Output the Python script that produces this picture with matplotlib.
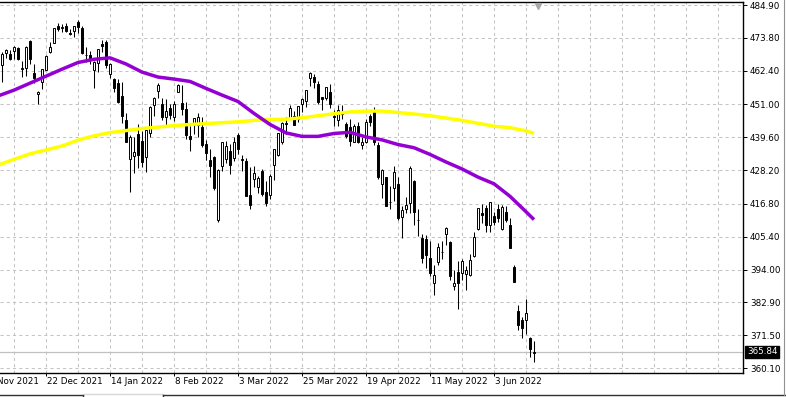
import numpy as np
import matplotlib
matplotlib.use("Agg")
import matplotlib.pyplot as plt
import matplotlib.transforms as mtransforms
from matplotlib.lines import Line2D

plt.rcParams['font.family'] = 'DejaVu Sans'

# daily candles, 6 Dec 2021 .. 17 Jun 2022
dates = ['2021-12-06', '2021-12-07', '2021-12-08', '2021-12-09', '2021-12-10', '2021-12-13', '2021-12-14',
         '2021-12-15', '2021-12-16', '2021-12-17', '2021-12-20', '2021-12-21', '2021-12-22', '2021-12-23',
         '2021-12-27', '2021-12-28', '2021-12-29', '2021-12-30', '2021-12-31',
         '2022-01-03', '2022-01-04', '2022-01-05', '2022-01-06', '2022-01-07', '2022-01-10', '2022-01-11',
         '2022-01-12', '2022-01-13', '2022-01-14', '2022-01-18', '2022-01-19', '2022-01-20', '2022-01-21',
         '2022-01-24', '2022-01-25', '2022-01-26', '2022-01-27', '2022-01-28', '2022-01-31',
         '2022-02-01', '2022-02-02', '2022-02-03', '2022-02-04', '2022-02-07', '2022-02-08', '2022-02-09',
         '2022-02-10', '2022-02-11', '2022-02-14', '2022-02-15', '2022-02-16', '2022-02-17', '2022-02-18',
         '2022-02-22', '2022-02-23', '2022-02-24', '2022-02-25', '2022-02-28',
         '2022-03-01', '2022-03-02', '2022-03-03', '2022-03-04', '2022-03-07', '2022-03-08', '2022-03-09',
         '2022-03-10', '2022-03-11', '2022-03-14', '2022-03-15', '2022-03-16', '2022-03-17', '2022-03-18',
         '2022-03-21', '2022-03-22', '2022-03-23', '2022-03-24', '2022-03-25', '2022-03-28', '2022-03-29',
         '2022-03-30', '2022-03-31',
         '2022-04-01', '2022-04-04', '2022-04-05', '2022-04-06', '2022-04-07', '2022-04-08', '2022-04-11',
         '2022-04-12', '2022-04-13', '2022-04-14', '2022-04-18', '2022-04-19', '2022-04-20', '2022-04-21',
         '2022-04-22', '2022-04-25', '2022-04-26', '2022-04-27', '2022-04-28', '2022-04-29',
         '2022-05-02', '2022-05-03', '2022-05-04', '2022-05-05', '2022-05-06', '2022-05-09', '2022-05-10',
         '2022-05-11', '2022-05-12', '2022-05-13', '2022-05-16', '2022-05-17', '2022-05-18', '2022-05-19',
         '2022-05-20', '2022-05-23', '2022-05-24', '2022-05-25', '2022-05-26', '2022-05-27', '2022-05-31',
         '2022-06-01', '2022-06-02', '2022-06-03', '2022-06-06', '2022-06-07', '2022-06-08', '2022-06-09',
         '2022-06-10', '2022-06-13', '2022-06-14', '2022-06-15', '2022-06-16', '2022-06-17']

opens = [456.1, 464.4, 468.7, 468.2, 469.2, 470.2, 463.1, 463.4, 472.6, 461.6, 454.5, 458.6, 462.8, 468.8,
         472.1, 477.7, 477.0, 477.9, 475.6,
         476.3, 479.2, 477.2, 467.9, 468.0, 462.7, 465.2, 471.6, 472.2, 461.2, 459.7, 458.1, 453.8, 445.6,
         432.0, 433.1, 440.7, 438.3, 432.7, 441.2,
         450.7, 455.5, 451.0, 446.4, 449.5, 446.7, 455.2, 451.3, 449.4, 439.9, 443.7, 443.9, 443.2, 437.3,
         431.9, 432.7, 411.0, 429.6, 432.0,
         435.0, 432.4, 440.5, 431.8, 431.6, 419.6, 425.1, 422.5, 428.1, 420.9, 419.8, 429.9, 433.6, 438.0,
         444.3, 445.9, 446.9, 445.9, 451.2, 452.1, 460.0, 460.3, 457.9,
         453.3, 453.1, 455.2, 446.9, 445.6, 448.0, 444.1, 443.1, 438.0, 443.6, 436.8, 437.9, 446.9, 448.5,
         436.9, 423.7, 425.8, 417.2, 422.3, 423.6,
         412.1, 415.0, 417.1, 424.6, 411.1, 405.1, 404.5, 398.1, 389.4, 396.7, 400.0, 406.5, 403.5, 388.6,
         393.3, 392.8, 392.6, 392.3, 398.7, 407.9, 413.6,
         415.2, 409.4, 412.4, 414.8, 408.1, 413.9, 409.3, 394.9, 379.9, 376.9, 376.9, 370.5, 365.5]

highs = [460.8, 468.9, 470.0, 469.6, 470.9, 470.6, 465.7, 470.9, 472.9, 464.7, 455.4, 463.2, 467.8, 472.2,
         477.3, 478.8, 478.6, 479.0, 476.9,
         477.9, 480.0, 478.0, 470.8, 469.2, 465.7, 469.9, 473.2, 472.9, 465.1, 460.0, 459.6, 458.7, 448.1,
         440.4, 439.7, 444.0, 441.6, 442.0, 450.3,
         453.6, 458.1, 453.0, 452.8, 451.0, 451.9, 457.9, 457.7, 451.6, 443.5, 446.3, 448.1, 446.6, 438.7,
         435.5, 433.3, 428.8, 437.8, 438.2,
         437.2, 439.7, 441.1, 433.4, 432.3, 429.5, 429.7, 426.4, 428.8, 424.6, 426.8, 435.7, 441.1, 444.9,
         446.5, 450.6, 448.5, 450.5, 453.0, 455.9, 462.1, 461.2, 458.8,
         453.5, 456.9, 457.8, 448.9, 450.7, 450.6, 445.0, 445.8, 444.1, 444.7, 439.8, 445.8, 447.6, 450.0,
         438.1, 428.7, 426.0, 422.9, 429.6, 425.9,
         415.9, 418.9, 429.7, 425.0, 414.8, 406.4, 406.1, 404.0, 395.8, 403.2, 404.0, 408.6, 403.8, 394.1,
         397.0, 397.7, 395.2, 399.5, 407.0, 415.4, 416.5,
         416.2, 417.4, 414.0, 416.6, 416.2, 415.8, 411.7, 395.8, 381.8, 377.9, 384.0, 370.9, 369.4]

lows = [453.6, 458.7, 466.8, 466.1, 466.5, 466.3, 460.3, 460.7, 464.8, 458.1, 451.1, 456.3, 462.6, 468.6,
        472.0, 476.1, 475.9, 475.7, 474.7,
        473.9, 475.6, 468.3, 465.4, 464.7, 456.6, 462.1, 468.9, 463.4, 459.9, 455.3, 451.5, 444.5, 437.9,
        420.8, 427.2, 428.9, 429.5, 427.8, 439.8,
        446.9, 453.1, 445.7, 443.8, 445.9, 445.2, 455.0, 447.2, 438.9, 434.8, 440.7, 439.7, 436.4, 431.8,
        425.9, 421.4, 410.6, 427.9, 430.7,
        427.1, 431.6, 433.8, 427.9, 419.4, 415.1, 422.4, 420.4, 419.5, 415.8, 418.4, 424.8, 433.2, 437.2,
        440.7, 445.9, 443.7, 444.8, 448.4, 450.1, 457.2, 456.5, 451.2,
        449.1, 452.3, 449.8, 443.5, 443.5, 445.9, 439.4, 436.7, 437.8, 437.7, 435.6, 437.7, 443.5, 437.1,
        425.4, 418.8, 416.1, 415.0, 417.6, 411.2,
        405.0, 413.4, 413.7, 409.4, 405.7, 396.5, 394.8, 392.0, 385.2, 395.6, 397.6, 402.6, 390.6, 387.1,
        380.5, 390.6, 387.0, 391.9, 398.5, 407.7, 410.0,
        406.9, 407.0, 409.5, 410.6, 407.6, 410.4, 401.4, 389.8, 373.3, 370.6, 372.1, 364.1, 362.2]

closes = [458.8, 468.3, 469.5, 466.4, 470.7, 466.6, 463.4, 470.6, 466.5, 459.9, 455.0, 463.1, 467.7, 470.6,
          477.3, 476.9, 477.5, 476.2, 475.0,
          477.7, 477.6, 468.4, 467.9, 466.1, 465.5, 469.8, 471.0, 464.5, 464.7, 456.5, 451.8, 446.8, 438.0,
          439.8, 434.5, 433.4, 431.2, 442.0, 449.9,
          453.0, 457.4, 446.6, 448.7, 447.3, 450.9, 457.5, 449.3, 440.5, 439.0, 446.1, 446.6, 437.1, 434.2,
          429.6, 422.0, 428.3, 437.8, 436.6,
          430.0, 437.9, 435.7, 432.2, 419.4, 416.3, 427.4, 425.5, 420.1, 417.0, 426.2, 435.6, 441.1, 444.5,
          444.4, 449.6, 443.8, 450.5, 452.7, 455.9, 461.6, 458.7, 451.6,
          452.9, 456.8, 451.0, 446.5, 448.8, 447.6, 439.9, 438.3, 443.3, 437.8, 438.0, 445.0, 444.7, 438.1,
          426.0, 428.5, 416.1, 417.3, 427.8, 412.0,
          414.5, 416.4, 429.1, 413.8, 411.3, 398.2, 399.1, 392.8, 392.3, 401.7, 400.1, 408.3, 391.9, 389.5,
          389.6, 396.9, 393.9, 397.4, 405.3, 415.3, 412.9,
          409.6, 417.4, 410.5, 411.8, 415.7, 411.2, 401.4, 389.8, 375.0, 373.9, 379.2, 366.7, 365.84]

# moving averages, every 4th bar from 6 Dec
ma_dates = dates[::4] + [dates[-1]]
ma_purple = [453.8, 455.8, 458.2, 460.6, 463.0, 465.3, 466.4, 466.9, 464.8, 462.0, 460.3, 459.6, 458.8,
             456.4, 454.1, 451.9, 447.8, 444.0, 441.1, 439.9, 439.9, 440.9, 441.3, 439.7, 438.7, 437.1,
             436.0, 433.7, 431.1, 428.7, 425.9, 423.6, 419.3, 414.0, 411.3]
ma_yellow = [430.0, 432.0, 433.9, 435.2, 436.6, 438.6, 440.1, 441.2, 441.9, 442.6, 443.1, 443.6, 444.0,
             444.3, 444.6, 444.9, 445.4, 445.7, 445.8, 446.3, 447.0, 447.7, 448.3, 448.6, 448.6, 448.1,
             447.6, 447.0, 446.2, 445.4, 444.4, 443.4, 442.9, 441.8, 440.9]

price_ticks = [484.90, 473.80, 462.40, 451.00, 439.60, 428.20, 416.80, 405.40, 394.00, 382.90, 371.50, 360.10]
date_ticks = ['2021-11-30', '2021-12-22', '2022-01-14', '2022-02-08', '2022-03-03',
              '2022-03-25', '2022-04-19', '2022-05-11', '2022-06-03']
date_labels = ['30 Nov 2021', '22 Dec 2021', '14 Jan 2022', '8 Feb 2022', '3 Mar 2022',
               '25 Mar 2022', '19 Apr 2022', '11 May 2022', '3 Jun 2022']
last_price = 365.84

holidays = ['2021-12-24', '2022-01-17', '2022-02-21', '2022-04-15', '2022-05-30']


def bar_pos(d):
    # trading days since 1 Dec 2021
    return np.busday_count('2021-12-01', d, holidays=holidays)


x = np.array([bar_pos(d) for d in dates])
x_ma = np.array([bar_pos(d) for d in ma_dates])
o = np.array(opens)
h = np.array(highs)
l = np.array(lows)
c = np.array(closes)

fig = plt.figure(figsize=(7.86, 3.97), dpi=100)
ax = fig.add_axes([0, 24 / 397, 743 / 786, 371 / 397])
ax.set_xlim(3.5, 189.25)
ax.set_ylim(358.55, 486.1)

grid_kw = dict(color='#c4c4c4', lw=0.75, ls=(0, (3, 3)), zorder=0.5)
for p in price_ticks:
    ax.axhline(p, **grid_kw)
for k in range(7, 190, 8):
    ax.axvline(k, **grid_kw)

ax.axhline(last_price, color='#c0c0c0', lw=0.9, zorder=0.6)

# candles
ax.vlines(x, l, h, color='black', lw=0.75, zorder=2)
up = c >= o
body_lo = np.minimum(o, c)
body_h = np.maximum(np.abs(c - o), 0.08)
ax.bar(x[up], body_h[up], bottom=body_lo[up], width=0.6, color='white',
       edgecolor='black', linewidth=0.7, zorder=3)
ax.bar(x[~up], body_h[~up], bottom=body_lo[~up], width=0.6, color='black',
       edgecolor='black', linewidth=0.7, zorder=3)

ax.plot(x_ma, ma_yellow, color='#ffff00', lw=2.5, zorder=4, solid_capstyle='butt')
ax.plot(x_ma, ma_purple, color='#9400d3', lw=2.5, zorder=5, solid_capstyle='butt')

# axes frame like the terminal chart
ax.spines['left'].set_visible(False)
for s in ['top', 'right', 'bottom']:
    ax.spines[s].set_linewidth(1.0)
    ax.spines[s].set_color('black')

ax.yaxis.tick_right()
ax.set_yticks(price_ticks)
ax.set_yticklabels(['%.2f' % p for p in price_ticks])
ax.tick_params(axis='y', direction='out', length=3, width=0.7, pad=2, labelsize=6.3, colors='black')

tick_x = [bar_pos(d) for d in date_ticks]
ax.set_xticks([t for t in tick_x if t > 3.5])
ax.set_xticklabels([])
ax.tick_params(axis='x', direction='out', length=2.5, width=0.7)
for t, lab in zip(tick_x, date_labels):
    ax.annotate(lab, xy=(t, 0), xycoords=('data', 'axes fraction'), xytext=(1, -8),
                textcoords='offset pixels', ha='left', va='center', fontsize=6.3,
                annotation_clip=False)

# last price tag
ax.annotate('%.2f' % last_price, xy=(1, last_price), xycoords=('axes fraction', 'data'),
            xytext=(4, 0), textcoords='offset pixels', ha='left', va='center', fontsize=6.3,
            color='white', annotation_clip=False,
            bbox=dict(boxstyle='square,pad=0.2', fc='black', ec='black'))

# little shift marker at the top
trans = mtransforms.blended_transform_factory(ax.transData, ax.transAxes)
ax.plot([138], [0.988], marker='v', ms=4.5, color='#a8a8a8', mec='#a8a8a8',
        transform=trans, clip_on=False, zorder=6)

# tab strip at the bottom of the window
W, H = 786.0, 397.0
def pix_line(xs, ys, col, lw=1.0):
    fig.add_artist(Line2D([v / W for v in xs], [1 - v / H for v in ys], color=col, lw=lw,
                          transform=fig.transFigure))

pix_line([0, 83], [395, 395], '#303030')
pix_line([83, 83], [395, 397], '#303030')
pix_line([84, 162], [394, 394], '#d8d8d8')
pix_line([163, 163], [395, 397], '#303030')
pix_line([163, 786], [395, 395], '#303030')
pix_line([784, 784], [0, 395], '#909090', lw=0.8)

fig.savefig('out.png', dpi=100, facecolor='white')
